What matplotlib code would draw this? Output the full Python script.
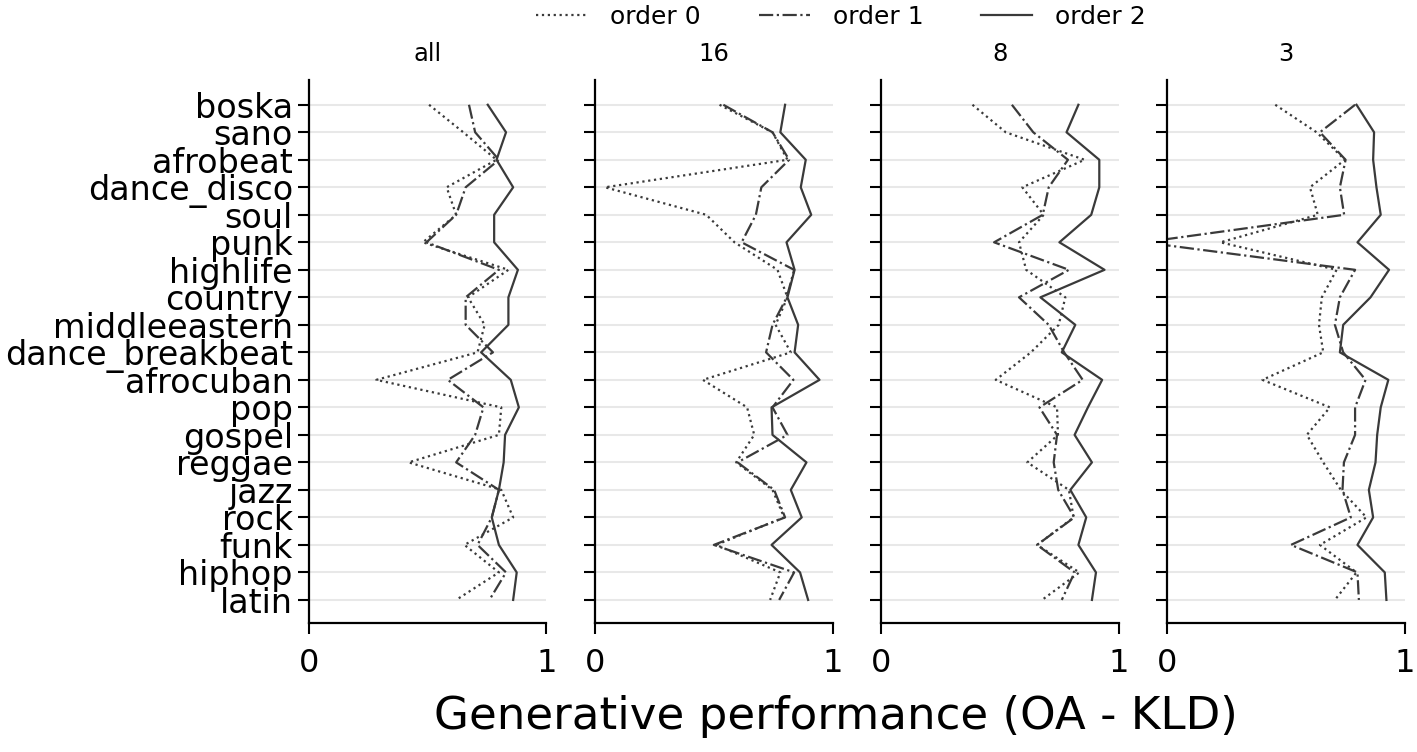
import matplotlib
matplotlib.use("Agg")
import matplotlib.pyplot as plt
from matplotlib.lines import Line2D

genres = ['boska', 'sano', 'afrobeat', 'dance_disco', 'soul', 'punk', 'highlife',
          'country', 'middleeastern', 'dance_breakbeat', 'afrocuban', 'pop', 'gospel',
          'reggae', 'jazz', 'rock', 'funk', 'hiphop', 'latin']
panels = ['all', '16', '8', '3']

# generative performance per panel, one list per order
all_o0 = [0.506, 0.65, 0.79, 0.58, 0.62, 0.48, 0.84, 0.67, 0.74, 0.71,
          0.284, 0.81, 0.80, 0.42, 0.81, 0.86, 0.655, 0.80, 0.62]
all_o1 = [0.674, 0.70, 0.80, 0.66, 0.62, 0.495, 0.80, 0.66, 0.66, 0.775,
          0.585, 0.735, 0.70, 0.62, 0.80, 0.77, 0.71, 0.83, 0.76]
all_o2 = [0.753, 0.83, 0.79, 0.86, 0.78, 0.78, 0.88, 0.84, 0.84, 0.725,
          0.85, 0.884, 0.826, 0.82, 0.80, 0.77, 0.80, 0.875, 0.86]

s16_o0 = [0.524, 0.747, 0.81, 0.042, 0.468, 0.587, 0.768, 0.81, 0.76, 0.824,
          0.454, 0.64, 0.67, 0.594, 0.747, 0.796, 0.51, 0.78, 0.737]
s16_o1 = [0.54, 0.747, 0.817, 0.70, 0.677, 0.617, 0.838, 0.807, 0.747, 0.72,
          0.835, 0.747, 0.81, 0.60, 0.754, 0.80, 0.50, 0.838, 0.775]
s16_o2 = [0.80, 0.78, 0.887, 0.866, 0.91, 0.806, 0.84, 0.81, 0.855, 0.84,
          0.945, 0.743, 0.747, 0.89, 0.824, 0.87, 0.743, 0.863, 0.897]

s8_o0 = [0.384, 0.524, 0.856, 0.594, 0.684, 0.58, 0.61, 0.775, 0.747, 0.63,
         0.482, 0.74, 0.744, 0.615, 0.79, 0.81, 0.656, 0.834, 0.677]
s8_o1 = [0.55, 0.64, 0.786, 0.705, 0.68, 0.475, 0.79, 0.58, 0.705, 0.77,
         0.848, 0.666, 0.74, 0.726, 0.745, 0.813, 0.656, 0.814, 0.76]
s8_o2 = [0.83, 0.78, 0.918, 0.918, 0.884, 0.75, 0.94, 0.67, 0.817, 0.76,
         0.93, 0.87, 0.814, 0.887, 0.796, 0.863, 0.83, 0.904, 0.887]

s3_o0 = [0.454, 0.628, 0.747, 0.60, 0.633, 0.223, 0.712, 0.65, 0.638, 0.656,
         0.40, 0.684, 0.587, 0.656, 0.73, 0.838, 0.642, 0.796, 0.705]
s3_o1 = [0.79, 0.642, 0.75, 0.726, 0.744, -0.1, 0.79, 0.726, 0.705, 0.74,
         0.834, 0.79, 0.79, 0.743, 0.737, 0.772, 0.52, 0.80, 0.806]
s3_o2 = [0.796, 0.87, 0.866, 0.88, 0.898, 0.80, 0.933, 0.855, 0.74, 0.726,
         0.93, 0.898, 0.883, 0.876, 0.848, 0.866, 0.80, 0.915, 0.922]

data = [(all_o0, all_o1, all_o2), (s16_o0, s16_o1, s16_o2),
        (s8_o0, s8_o1, s8_o2), (s3_o0, s3_o1, s3_o2)]
styles = [':', '-.', '-']
labels = ['order 0', 'order 1', 'order 2']
col = '#3a3a3a'

fig, axes = plt.subplots(1, 4, figsize=(14.17, 7.52), dpi=100, sharey=True)
plt.subplots_adjust(left=0.218, right=0.9915, bottom=0.1715, top=0.8936, wspace=0.205)

ypos = list(range(len(genres)))
for i, ax in enumerate(axes):
    for vals, ls in zip(data[i], styles):
        ax.plot(vals, ypos, ls=ls, color=col, lw=1.6)
    ax.set_xlim(0, 1)
    ax.set_ylim(len(genres) - 1 + 0.84, -0.9)
    ax.set_xticks([0, 1])
    ax.set_yticks(ypos)
    ax.grid(axis='y', color='#e8e8e8', lw=1.5)
    ax.set_axisbelow(True)
    ax.set_title(panels[i], fontsize=17.5, pad=14)
    for side in ['top', 'right']:
        ax.spines[side].set_visible(False)
    for side in ['left', 'bottom']:
        ax.spines[side].set_linewidth(1.6)
    ax.tick_params(length=8, width=1.5)
    ax.tick_params(axis='x', labelsize=23, pad=10)
    ax.tick_params(axis='y', labelsize=24)
    if i > 0:
        ax.tick_params(labelleft=False)
axes[0].set_yticklabels(genres)

handles = [Line2D([], [], ls=ls, color=col, lw=1.6) for ls in styles]
fig.legend(handles, labels, loc='center', bbox_to_anchor=(841 / 1417, 1 - 17 / 752),
           ncol=3, frameon=False, fontsize=18, handlelength=2.05,
           handletextpad=0.92, columnspacing=2.3)

fig.text(836 / 1417, 1 - 717 / 752, 'Generative performance (OA - KLD)',
         fontsize=32.5, ha='center', va='center')

plt.savefig('out.png', dpi=100)
